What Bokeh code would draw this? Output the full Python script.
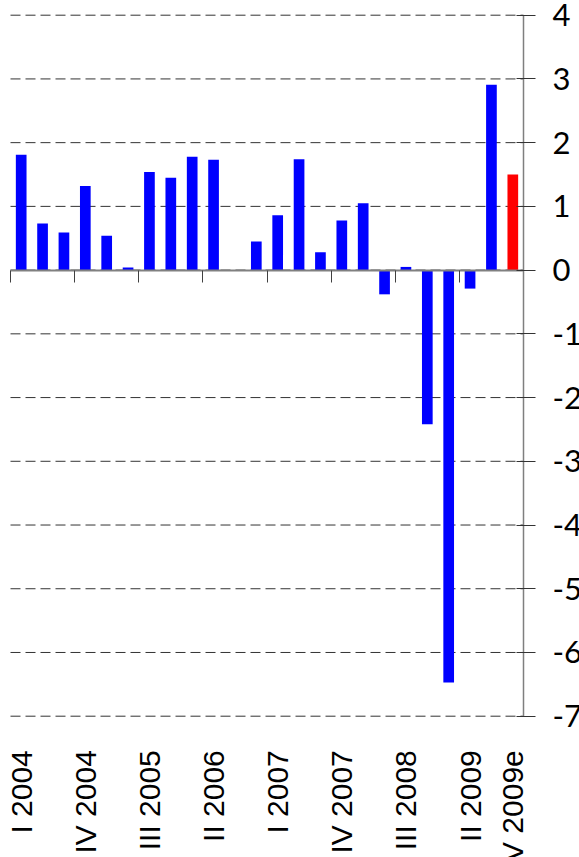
import math
from bokeh.plotting import figure
from bokeh.models import Range1d, FixedTicker, LinearAxis
from bokeh.embed import file_html
from bokeh.resources import INLINE

# ---- data ----
quarters = [
    "I 2004", "II 2004", "III 2004", "IV 2004",
    "I 2005", "II 2005", "III 2005", "IV 2005",
    "I 2006", "II 2006", "III 2006", "IV 2006",
    "I 2007", "II 2007", "III 2007", "IV 2007",
    "I 2008", "II 2008", "III 2008", "IV 2008",
    "I 2009", "II 2009", "III 2009", "IV 2009e",
]
growth = [
    1.81, 0.73, 0.59, 1.32,
    0.54, 0.04, 1.54, 1.45,
    1.78, 1.73, 0.00, 0.45,
    0.86, 1.74, 0.28, 0.78,
    1.05, -0.38, 0.05, -2.42,
    -6.47, -0.29, 2.91, 1.50,
]
label_index = [0, 3, 6, 9, 12, 15, 18, 21, 23]
y_ticks = [-7, -6, -5, -4, -3, -2, -1, 0, 1, 2, 3, 4]

# ---- derived ----
n = len(quarters)
x_centers = [i + 0.5 for i in range(n)]
colors = ["#FF0000" if q.endswith("e") else "#0000FF" for q in quarters]
boundaries = list(range(0, n + 1, 3))
y_lo, y_hi = y_ticks[0], y_ticks[-1]

# ---- layout: the frame fills the canvas; ranges set so that the
# plotting area (0..n, y_lo..y_hi) sits at the wanted pixel box ----
W, H = 579, 857
px_left, px_right = 10.0, 523.0      # canvas px of x=0 and x=n
px_top, px_bottom = 14.7, 715.7      # canvas px of y=y_hi and y=y_lo
ux = n / (px_right - px_left)
uy = (y_hi - y_lo) / (px_bottom - px_top)
x_range = Range1d(0 - px_left * ux, n + (W - px_right) * ux)
y_range = Range1d(y_lo - (H - px_bottom) * uy, y_hi + px_top * uy)

p = figure(
    width=W, height=H, x_range=x_range, y_range=y_range,
    x_axis_location=None, y_axis_location=None,
    output_backend="svg", toolbar_location=None,
    min_border=0,
)
p.outline_line_color = None
p.xgrid.visible = False
p.ygrid.visible = False
p.background_fill_color = "white"
p.border_fill_color = "white"

# dashed horizontal grid lines across the category span
p.segment(x0=[0] * len(y_ticks), x1=[n] * len(y_ticks), y0=y_ticks, y1=y_ticks,
          line_color="#333333", line_width=1, line_dash="10 5")

# bars
p.vbar(x=x_centers, top=growth, bottom=0, width=0.5,
       fill_color=colors, line_color=None)

# zero axis with category-group tick marks
zero_axis = LinearAxis(fixed_location=0, ticker=FixedTicker(ticks=boundaries),
                       bounds=(0, n))
zero_axis.axis_line_color = "#808080"
zero_axis.axis_line_width = 2
zero_axis.major_tick_in = 0
zero_axis.major_tick_out = 12
zero_axis.major_tick_line_color = "#404040"
zero_axis.minor_tick_line_color = None
zero_axis.major_label_text_color = None
p.add_layout(zero_axis, "below")

# category labels under the plotting area (reading bottom to top)
lab_axis = LinearAxis(fixed_location=y_lo,
                      ticker=FixedTicker(ticks=[i + 0.5 for i in label_index]))
lab_axis.major_label_overrides = {i + 0.5: quarters[i] for i in label_index}
lab_axis.major_label_orientation = math.pi / 2
lab_axis.axis_line_color = None
lab_axis.major_tick_line_color = None
lab_axis.minor_tick_line_color = None
lab_axis.major_tick_in = 0
lab_axis.major_tick_out = 0
lab_axis.major_label_standoff = 34
lab_axis.major_label_text_font = "Liberation Sans"
lab_axis.major_label_text_font_size = "30px"
lab_axis.major_label_text_color = "black"
p.add_layout(lab_axis, "below")

# value axis on the right
y_axis = LinearAxis(fixed_location=n, ticker=FixedTicker(ticks=y_ticks),
                    bounds=(y_lo, y_hi))
y_axis.major_label_overrides = {t: str(t) for t in y_ticks}
y_axis.axis_line_color = "#7f7f7f"
y_axis.axis_line_width = 1.5
y_axis.major_tick_in = 7
y_axis.major_tick_out = 12
y_axis.major_tick_line_color = "#333333"
y_axis.minor_tick_line_color = None
y_axis.major_label_standoff = 17
y_axis.major_label_text_font = "Lato"
y_axis.major_label_text_font_size = "31px"
y_axis.major_label_text_color = "black"
p.add_layout(y_axis, "right")

open("out.html", "w").write(file_html(p, INLINE))
